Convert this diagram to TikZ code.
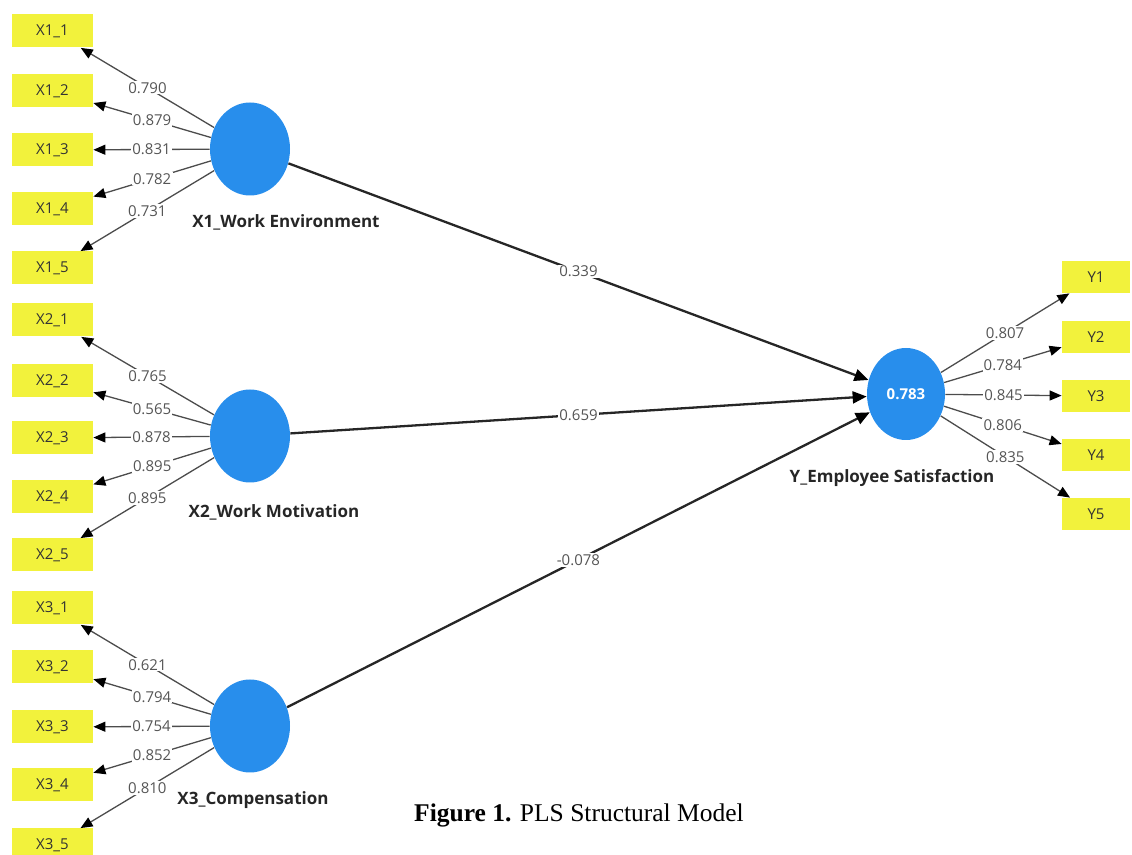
\documentclass[tikz,border=0pt]{standalone}
\usepackage{fontspec}
\setmainfont{Liberation Serif}
\newfontfamily\plsfont{Open Sans}
\usetikzlibrary{shapes.geometric,arrows.meta}
\definecolor{indyellow}{RGB}{242,242,60}
\definecolor{lvblue}{RGB}{40,142,236}
\definecolor{coefgray}{RGB}{85,85,85}

\begin{document}
\begin{tikzpicture}[x=0.5pt,y=-0.5pt,
  ind/.style={rectangle,fill=indyellow,minimum width=40.5pt,minimum height=16.5pt,inner sep=0pt,text=black!80,font=\plsfont\fontsize{7.5}{9}\selectfont},
  yind/.style={ind,minimum width=34pt,minimum height=16pt},
  lv/.style={ellipse,fill=lvblue,minimum width=40pt,minimum height=46.5pt,inner sep=0pt},
  lvname/.style={text=black!85,font=\plsfont\bfseries\fontsize{8.5}{10}\selectfont},
  loadarrow/.style={draw=black!70,line width=0.65pt,-{Triangle[length=6pt,width=5pt,color=black]}},
  structpath/.style={draw=black!85,line width=1.15pt,-{Triangle[length=7pt,width=6pt,color=black]}},
  coef/.style={midway,fill=white,inner sep=0.6pt,text=coefgray,font=\plsfont\fontsize{7.5}{9}\selectfont}]
\useasboundingbox (0,0) rectangle (1132,855);
\clip (0,0) rectangle (1132,855);
%Indicator boxes
\node at (52.5,31) [ind] (X11) {X1\_1};
\node at (52.5,91) [ind] (X12) {X1\_2};
\node at (52.5,150) [ind] (X13) {X1\_3};
\node at (52.5,209) [ind] (X14) {X1\_4};
\node at (52.5,268) [ind] (X15) {X1\_5};
\node at (52.5,320) [ind] (X21) {X2\_1};
\node at (52.5,381) [ind] (X22) {X2\_2};
\node at (52.5,438) [ind] (X23) {X2\_3};
\node at (52.5,497) [ind] (X24) {X2\_4};
\node at (52.5,555) [ind] (X25) {X2\_5};
\node at (52.5,608) [ind] (X31) {X3\_1};
\node at (52.5,667) [ind] (X32) {X3\_2};
\node at (52.5,727) [ind] (X33) {X3\_3};
\node at (52.5,785) [ind] (X34) {X3\_4};
\node at (52.5,845) [ind] (X35) {X3\_5};
\node at (1096,277) [yind] (Y1) {Y1};
\node at (1096,337) [yind] (Y2) {Y2};
\node at (1096,396) [yind] (Y3) {Y3};
\node at (1096,455) [yind] (Y4) {Y4};
\node at (1096,514) [yind] (Y5) {Y5};
%Latent variables
\node at (250,149) [lv] (X1) {};
\node at (250,436) [lv] (X2) {};
\node at (250,726) [lv] (X3) {};
\node at (906,394) [lv,minimum width=39pt,minimum height=46pt,text=white,font=\plsfont\bfseries\fontsize{7.5}{9}\selectfont] (Y) {0.783};
%Latent variable names
\node at (286,222) [lvname] (X1name) {X1\_Work Environment};
\node at (274,512) [lvname] (X2name) {X2\_Work Motivation};
\node at (253,800) [lvname] (X3name) {X3\_Compensation};
\node at (892,478) [lvname] (Yname) {Y\_Employee Satisfaction};
%Outer loadings
\draw [loadarrow] (X1) -- node[coef] {0.790} (X11);
\draw [loadarrow] (X1) -- node[coef] {0.879} (X12);
\draw [loadarrow] (X1) -- node[coef] {0.831} (X13);
\draw [loadarrow] (X1) -- node[coef] {0.782} (X14);
\draw [loadarrow] (X1) -- node[coef] {0.731} (X15);
\draw [loadarrow] (X2) -- node[coef] {0.765} (X21);
\draw [loadarrow] (X2) -- node[coef] {0.565} (X22);
\draw [loadarrow] (X2) -- node[coef] {0.878} (X23);
\draw [loadarrow] (X2) -- node[coef] {0.895} (X24);
\draw [loadarrow] (X2) -- node[coef] {0.895} (X25);
\draw [loadarrow] (X3) -- node[coef] {0.621} (X31);
\draw [loadarrow] (X3) -- node[coef] {0.794} (X32);
\draw [loadarrow] (X3) -- node[coef] {0.754} (X33);
\draw [loadarrow] (X3) -- node[coef] {0.852} (X34);
\draw [loadarrow] (X3) -- node[coef] {0.810} (X35);
\draw [loadarrow] (Y) -- node[coef] {0.807} (Y1);
\draw [loadarrow] (Y) -- node[coef] {0.784} (Y2);
\draw [loadarrow] (Y) -- node[coef] {0.845} (Y3);
\draw [loadarrow] (Y) -- node[coef] {0.806} (Y4);
\draw [loadarrow] (Y) -- node[coef] {0.835} (Y5);
%Path coefficients
\draw [structpath] (X1) -- node[coef] {0.339} (Y);
\draw [structpath] (X2) -- node[coef] {0.659} (Y);
\draw [structpath] (X3) -- node[coef] {-0.078} (Y);
%Caption
\node at (579,815) (caption) {\fontsize{12.75}{15}\selectfont\textbf{Figure 1.} PLS Structural Model};
\end{tikzpicture}
\end{document}
